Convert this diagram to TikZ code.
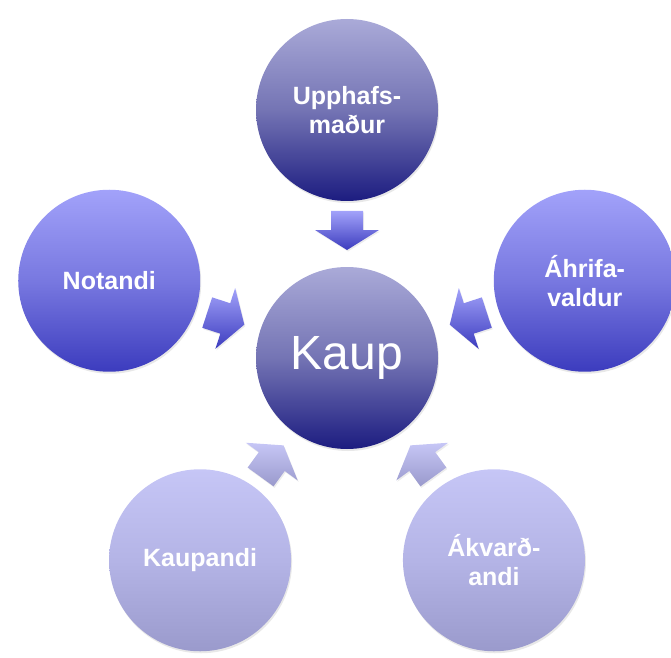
\documentclass[tikz,border=0pt]{standalone}
\usepackage{fontspec}
\setmainfont{Liberation Sans}
\usetikzlibrary{calc,shadows}

% colours of the three kinds of circles and arrows
\definecolor{navyTop}{HTML}{AAAAD8}
\definecolor{navyMid}{HTML}{7474B4}
\definecolor{navyBot}{HTML}{1C1C80}
\definecolor{blueTop}{HTML}{A2A2FA}
\definecolor{blueMid}{HTML}{7878E0}
\definecolor{blueBot}{HTML}{3C3CBE}
\definecolor{paleTop}{HTML}{C6C6F6}
\definecolor{paleMid}{HTML}{B4B4E6}
\definecolor{paleBot}{HTML}{9A9ACC}

\tikzset{
  role/.style={circle, minimum size=182pt, inner sep=0pt, align=center,
    text=white, font=\bfseries\fontsize{25}{29}\selectfont,
    drop shadow={opacity=0.18, shadow xshift=1pt, shadow yshift=-2pt}},
  navyball/.style={top color=navyTop, bottom color=navyBot, middle color=navyMid},
  blueball/.style={top color=blueTop, bottom color=blueBot, middle color=blueMid},
  paleball/.style={top color=paleTop, bottom color=paleBot, middle color=paleMid},
}

\begin{document}
\begin{tikzpicture}[x=1pt, y=1pt]
    \useasboundingbox (0,0) rectangle (671,657);

    % Centre
    \node[role, navyball, font=\fontsize{48}{58}\selectfont] (Kaup) at (347,299) {Kaup};

    % The five roles round it
    \node[role, navyball] (upphaf) at ($(Kaup)+(90:248)$) {Upphafs-\\maður};
    \node[role, blueball] (notandi) at ($(Kaup)+(162:250)$) {Notandi};
    \node[role, blueball] (ahrifa) at ($(Kaup)+(18:250)$) {Áhrifa-\\valdur};
    \node[role, paleball] (kaupandi) at ($(Kaup)+(234:250)$) {Kaupandi};
    \node[role, paleball] (akvard) at ($(Kaup)+(306:250)$) {Ákvarð-\\andi};

    % Block arrows pointing in to the centre
    \foreach \ang/\tc/\bc in {90/blueTop/blueBot, 162/blueTop/blueBot, 18/blueTop/blueBot,
                              234/paleTop/paleBot, 306/paleTop/paleBot}
      \path[top color=\tc, bottom color=\bc,
            drop shadow={opacity=0.15, shadow xshift=1pt, shadow yshift=-1.5pt}]
        ($(Kaup)+(\ang:108)$)
        -- ($(Kaup)+(\ang:128)+(\ang+90:32)$)
        -- ($(Kaup)+(\ang:128)+(\ang+90:16)$)
        -- ($(Kaup)+(\ang:147)+(\ang+90:16)$)
        -- ($(Kaup)+(\ang:147)+(\ang-90:16)$)
        -- ($(Kaup)+(\ang:128)+(\ang-90:16)$)
        -- ($(Kaup)+(\ang:128)+(\ang-90:32)$)
        -- cycle;
\end{tikzpicture}
\end{document}
